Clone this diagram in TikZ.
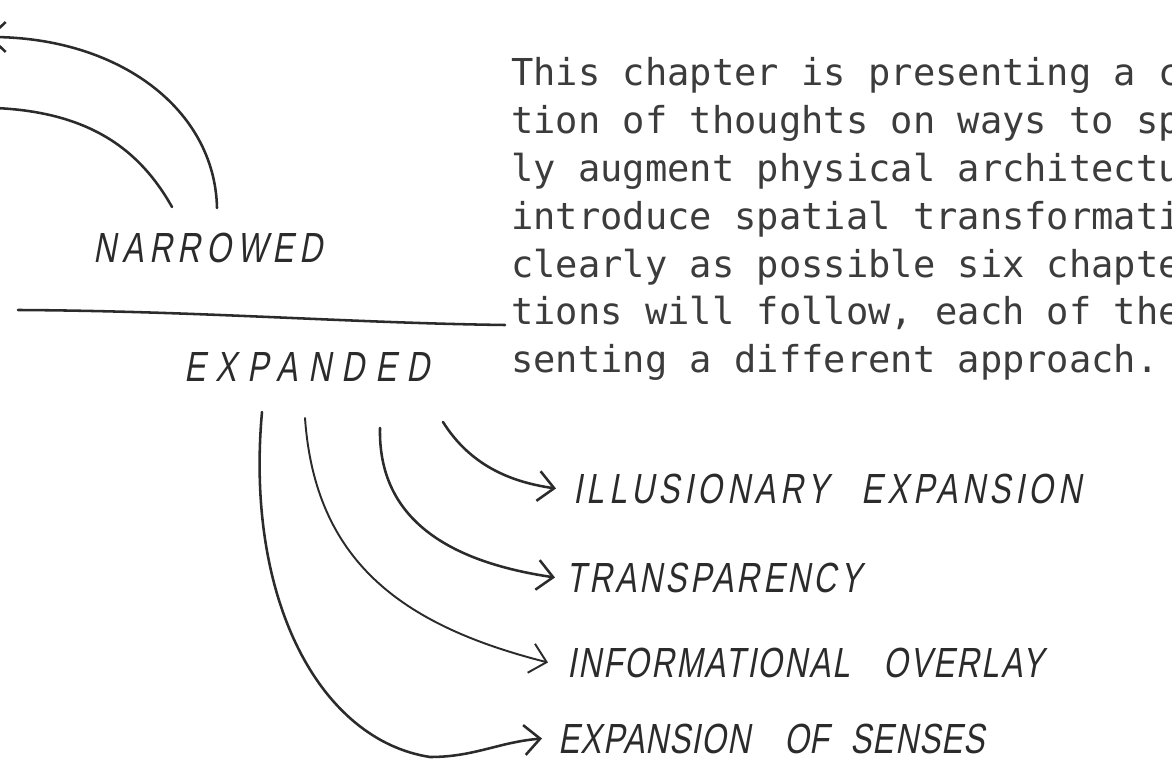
\documentclass[tikz,border=0pt]{standalone}
\usepackage{fontspec}
\usetikzlibrary{arrows.meta,positioning}
\newfontfamily\monofont{DejaVu Sans Mono}
\newfontfamily\handfont[FakeStretch=0.75,FakeSlant=0.18]{Liberation Sans}
\newcommand{\wgap}{\hspace{19pt}}
\definecolor{ink}{HTML}{2B2B2B}
\definecolor{typeink}{HTML}{3C3C3C}
\tikzset{%
handnode/.style={inner sep=0pt, text=ink, font=\handfont\fontsize{24pt}{24pt}\selectfont\addfontfeature{LetterSpace=#1}},
handnode/.default=8,
typenode/.style={inner sep=0pt, anchor=base west, text=typeink, font=\monofont\fontsize{21.1pt}{27.1pt}\selectfont},
arr/.style={draw=ink, line width=1.45pt, line cap=round, ->, >={Straight Barb[length=9pt,width=17pt]}},
ln/.style={draw=ink, line width=1.45pt, line cap=round, -}
}

\begin{document}
\begin{tikzpicture}[x=0.02cm, y=0.02cm]
		\useasboundingbox (0,0) rectangle (1172,-776);
		
		% typed text, cut at the right edge
		\foreach \txt [count=\i] in {This chapter is presenting a c, tion of thoughts on ways to sp, ly augment physical architectu, introduce spatial transformati, clearly as possible six chapte, {tions will follow, each of the}, senting a different approach.}
			\node[typenode] (line\i) at (511,{-86-(\i-1)*47.8}) {\txt};
		
		% hand lettering
		\node[handnode=14] (narrowed) at (208,-248) {NARROWED};
		\node[handnode=25] (expanded) at (307,-367) {EXPANDED};
		\node[handnode=11, anchor=base west] (illusion) at (573,-503) {ILLUSIONARY\wgap EXPANSION};
		\node[handnode, anchor=base west] (transp) at (566,-592) {TRANSPARENCY};
		\node[handnode=5, anchor=base west] (overlay) at (567,-677) {INFORMATIONAL\wgap OVERLAY};
		\node[handnode=3, anchor=base west] (senses) at (558,-753) {EXPANSION\wgap OF\hspace{12pt}SENSES};
		
		\coordinate (n1) at (217,-208);
		\coordinate (n2) at (172,-207);
		\coordinate (left1) at (-12,-37);
		\coordinate (left2) at (-5,-108);
		\coordinate (s1) at (443,-422);
		\coordinate (s2) at (380,-428);
		\coordinate (s3) at (305,-418);
		\coordinate (s4) at (262,-412);
		
		\draw[arr] (n1) .. controls (215,-110) and (120,-37) .. (left1);
		\draw[ln] (n2) .. controls (140,-150) and (90,-112) .. (left2);
		
		\draw[ln] (18,-310) .. controls (200,-311) and (350,-323) .. (505,-325);
		
		\draw[arr] (s1) .. controls (470,-465) and (510,-482) .. ([xshift=-0.34cm]illusion.west);
		\draw[arr] (s2) .. controls (378,-520) and (450,-562) .. ([xshift=-0.22cm]transp.west);
		\draw[arr, line width=1.1pt] (s3) .. controls (315,-560) and (400,-625) .. ([xshift=-0.38cm]overlay.west);
		\draw[arr] (s4) .. controls (245,-600) and (320,-740) .. (430,-757) to[out=0,in=185] ([xshift=-0.32cm]senses.west);
	\end{tikzpicture}
\end{document}
